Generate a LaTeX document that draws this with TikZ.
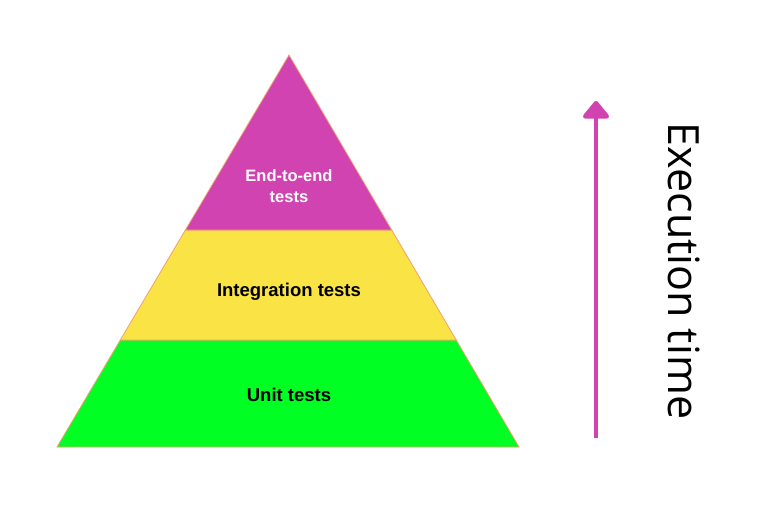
\documentclass[tikz,border=0pt]{standalone}
\usepackage{fontspec}
\setmainfont{Liberation Sans}
\newfontfamily\labelfont{Open Sans}
\usetikzlibrary{arrows.meta}
\definecolor{pyrpurple}{HTML}{D043B0}
\definecolor{pyryellow}{HTML}{F9E345}
\definecolor{pyrgreen}{HTML}{00FF22}
\definecolor{pyredge}{HTML}{F0A070}
\tikzset{
  layer/.style={draw=pyredge, line width=0.8pt, line join=miter},
  layertext/.style={font=\fontsize{18.5}{21}\selectfont\bfseries, align=center, inner sep=0pt},
}
\begin{document}
\begin{tikzpicture}[x=1pt,y=-1pt]
\useasboundingbox (0,0) rectangle (757,525);
\fill[white] (0,0) rectangle (757,525);
% layers
\filldraw[layer, fill=pyrgreen] (120.3,340) -- (456.2,340) -- (519,447) -- (57,447) -- cycle;
\filldraw[layer, fill=pyryellow] (185.4,230) -- (391.7,230) -- (456.2,340) -- (120.3,340) -- cycle;
\filldraw[layer, fill=pyrpurple] (289,55) -- (391.7,230) -- (185.4,230) -- cycle;
% texts
\node[layertext, text=white, font=\fontsize{16.5}{21}\selectfont\bfseries] (e2e) at (289,186) {End-to-end\\tests};
\node[layertext] (integ) at (289,292) {Integration tests};
\node[layertext] (unit) at (289,395) {Unit tests};
% arrow
\coordinate (abot) at (596,438);
\coordinate (atop) at (596,101);
\draw[pyrpurple, line width=4.5pt, -{Triangle[length=19pt,width=30pt,line join=round]}] (abot) -- (atop);
\node[font=\labelfont\fontsize{43}{50}\selectfont, rotate=-90, inner sep=0pt] (exec) at (684,271) {Execution time};
\end{tikzpicture}
\end{document}
